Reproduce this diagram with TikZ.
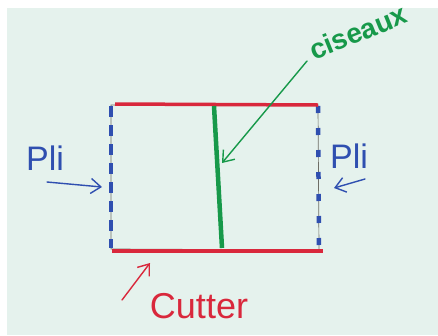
\documentclass[tikz,border=0pt]{standalone}
\usepackage{fontspec}
\setmainfont{Liberation Sans}
\usetikzlibrary{arrows.meta}
\definecolor{bg}{HTML}{E5F2ED}
\definecolor{pblue}{HTML}{2F4FB0}
\definecolor{pred}{HTML}{D9283C}
\definecolor{pgreen}{HTML}{17994A}
\definecolor{pencil}{HTML}{6E6E66}
\tikzset{
  lbl/.style={inner sep=0pt, font=\fontsize{#1}{#1}\selectfont},
  boldlbl/.style={inner sep=0pt, font=\fontsize{#1}{#1}\selectfont\bfseries},
  thinarrow/.style={line width=1.4pt, line cap=round, -{Straight Barb[length=10pt,width=15pt,line width=1.4pt]}},
}
\begin{document}
\begin{tikzpicture}[x=1pt,y=-1pt]
\useasboundingbox (0,0) rectangle (438,335);
\fill[white] (0,0) rectangle (438,335);
\fill[bg] (7,8) rectangle (438,335);
% corners
\coordinate (TL) at (111,105);
\coordinate (TR) at (318,105);
\coordinate (BL) at (111,249);
\coordinate (BR) at (319,250);
% pencil outline
\draw[pencil, line width=0.7pt] (TL) -- (TR) -- (BR) -- (BL) -- cycle;
% folds (blue dashed)
\draw[pblue, line width=3.5pt, dash pattern=on 11pt off 8pt] (111,106) -- (111,248);
\draw[pblue, line width=4.5pt, dash pattern=on 7pt off 15pt] (318,106) -- (319,249);
% cutter edges (red)
\draw[pred, line width=3.5pt] (115,104) -- (318,105);
\draw[pred, line width=4pt] (112,251) -- (323,251);
% scissors cut (green)
\coordinate (GT) at (214,106);
\coordinate (GB) at (222,248);
\draw[pgreen, line width=4.5pt] (GT) -- (GB);
% labels
\node[lbl=34, text=pblue] (pliL) at (45,158) {Pli};
\node[lbl=34, text=pblue] (pliR) at (349,156) {Pli};
\node[boldlbl=28, text=pgreen, rotate=22] (cis) at (358,32) {ciseaux};
\node[lbl=36, text=pred] (cut) at (199,306) {Cutter};
% arrows
\coordinate (aL1) at (47,182);
\coordinate (aL2) at (102,187);
\coordinate (aR1) at (365,179);
\coordinate (aR2) at (334,188);
\coordinate (aG1) at (307,61);
\coordinate (aG2) at (222,163);
\coordinate (aC1) at (122,300);
\coordinate (aC2) at (150,263);
\draw[pblue, thinarrow] (aL1) -- (aL2);
\draw[pblue, thinarrow] (aR1) -- (aR2);
\draw[pgreen, thinarrow] (aG1) -- (aG2);
\draw[pred, thinarrow] (aC1) -- (aC2);
\end{tikzpicture}
\end{document}
